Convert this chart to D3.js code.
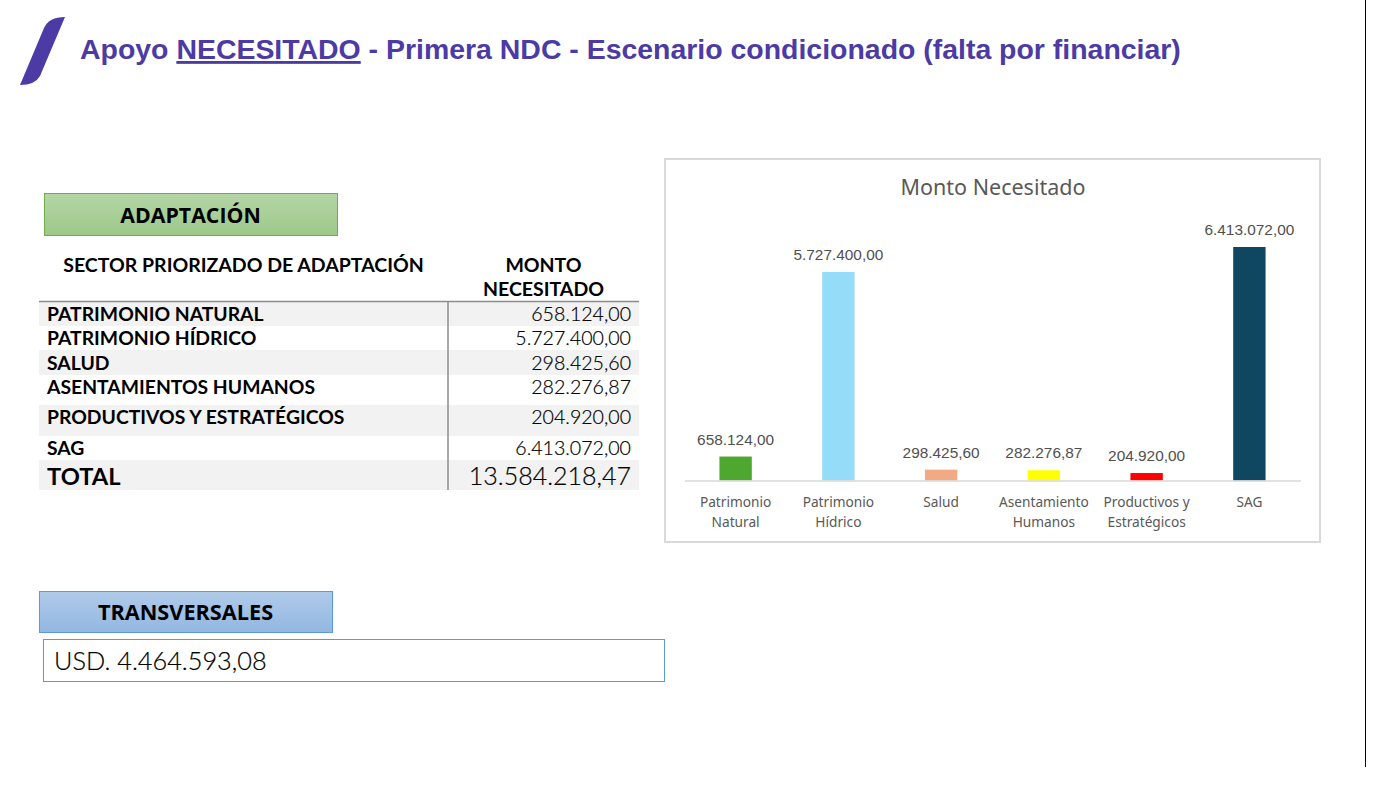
<!DOCTYPE html>
<html>
<head>
<meta charset="utf-8">
<script src="https://cdn.jsdelivr.net/npm/d3@7"></script>
<style>
  html, body { margin: 0; padding: 0; background: #fff; }
  svg { display: block; }
</style>
</head>
<body>
<svg id="slide"></svg>
<script>
// data
const tableSectors = ["PATRIMONIO NATURAL", "PATRIMONIO HÍDRICO", "SALUD", "ASENTAMIENTOS HUMANOS", "PRODUCTIVOS Y ESTRATÉGICOS", "SAG"];
const chartSectors = [["Patrimonio", "Natural"], ["Patrimonio", "Hídrico"], ["Salud"], ["Asentamiento", "Humanos"], ["Productivos y", "Estratégicos"], ["SAG"]];
const amounts = [658124.00, 5727400.00, 298425.60, 282276.87, 204920.00, 6413072.00];
const barColors = ["#4ea72e", "#95dcf9", "#f2aa84", "#ffff00", "#ff0000", "#0f4761"];
const totalLabel = "TOTAL";
const totalAmount = "13.584.218,47";
const transversalAmount = "USD. 4.464.593,08";

const purple = "#4c3aa5";
const tableFont = "Lato, 'Open Sans', sans-serif";
const chartFont = "'Noto Sans', Inter, sans-serif";

// 1.234.567,89 style numbers
const esLocale = d3.formatLocale({ decimal: ",", thousands: ".", grouping: [3], currency: ["", ""] });
const fmt = esLocale.format(",.2f");

const svg = d3.select("#slide").attr("width", 1390).attr("height", 786);

const defs = svg.append("defs");
function addGradient(id, top, bottom) {
  const g = defs.append("linearGradient").attr("id", id).attr("x1", 0).attr("y1", 0).attr("x2", 0).attr("y2", 1);
  g.append("stop").attr("offset", "0%").attr("stop-color", top);
  g.append("stop").attr("offset", "100%").attr("stop-color", bottom);
}
addGradient("greenFill", "#b5d6a6", "#9dc88a");
addGradient("blueFill", "#b0cbe9", "#92b7e2");

// slide edge on the right
svg.append("line")
  .attr("x1", 1365.5).attr("x2", 1365.5).attr("y1", 0).attr("y2", 767)
  .attr("stroke", "#000").attr("stroke-width", 1);

// logo slash
svg.append("path")
  .attr("d", "M65 17 L40 76 Q35 85 20 85 L44 28 Q49 17 65 17 Z")
  .attr("fill", purple);

// title
const title = svg.append("text")
  .attr("x", 80).attr("y", 59)
  .attr("font-family", "'Liberation Sans', Arial, sans-serif")
  .attr("font-size", 28.45).attr("font-weight", "bold")
  .attr("fill", purple);
title.append("tspan").text("Apoyo ");
title.append("tspan").attr("text-decoration", "underline").text("NECESITADO");
title.append("tspan").text(" - Primera NDC - Escenario condicionado (falta por financiar)");

// section badge, used twice
function badge(x, y, w, h, fill, stroke, label, size) {
  svg.append("rect")
    .attr("x", x + 0.5).attr("y", y + 0.5).attr("width", w).attr("height", h)
    .attr("fill", fill).attr("stroke", stroke);
  svg.append("text")
    .attr("x", x + w / 2).attr("y", y + h / 2 + 8.5)
    .attr("text-anchor", "middle")
    .attr("font-family", "'Open Sans', sans-serif")
    .attr("font-size", size).attr("font-weight", "bold")
    .attr("fill", "#000")
    .text(label);
}
badge(44, 193, 293, 42, "url(#greenFill)", "#70ad47", "ADAPTACIÓN", 21.3);
badge(39, 591, 293, 41, "url(#blueFill)", "#5b9bd5", "TRANSVERSALES", 21.7);

// table header
const headG = svg.append("g")
  .attr("font-family", tableFont)
  .attr("font-size", 19.5).attr("font-weight", "bold").attr("fill", "#000");
headG.append("text").attr("x", 243.5).attr("y", 272).attr("text-anchor", "middle")
  .text("SECTOR PRIORIZADO DE ADAPTACIÓN");
headG.append("text").attr("x", 543.5).attr("y", 272).attr("text-anchor", "middle").text("MONTO");
headG.append("text").attr("x", 543.5).attr("y", 296).attr("text-anchor", "middle").text("NECESITADO");

// table body
const tableRows = tableSectors.map((s, i) => ({ name: s, value: fmt(amounts[i]) }));
tableRows.push({ name: totalLabel, value: totalAmount, total: true });
const rowEdges = [302, 326, 350, 375, 405, 436, 460, 490];
// text is not centred in the taller rows
const rowMiddles = [314, 338, 363, 387, 417, 448, 476];

const rows = svg.append("g").selectAll("g").data(tableRows).enter().append("g");
rows.append("rect")
  .attr("x", 39).attr("width", 600)
  .attr("y", (d, i) => rowEdges[i])
  .attr("height", (d, i) => rowEdges[i + 1] - rowEdges[i])
  .attr("fill", (d, i) => i % 2 === 0 ? "#f2f2f2" : "#fff");
rows.append("text")
  .attr("x", 47)
  .attr("y", (d, i) => rowMiddles[i] + (d.total ? 9 : 6.5))
  .attr("font-family", tableFont)
  .attr("font-weight", "bold")
  .attr("font-size", d => d.total ? 23.7 : 19.35)
  .attr("fill", "#000")
  .text(d => d.name);
rows.append("text")
  .attr("x", 631)
  .attr("y", (d, i) => rowMiddles[i] + (d.total ? 9 : 6.5))
  .attr("text-anchor", "end")
  .attr("font-family", tableFont)
  .attr("font-weight", 300)
  .attr("font-size", d => d.total ? 25 : 19.6)
  .attr("fill", "#000")
  .attr("stroke", "#000")
  .attr("stroke-width", 0.2)
  .text(d => d.value);

svg.append("line").attr("x1", 39).attr("x2", 639).attr("y1", 301.5).attr("y2", 301.5)
  .attr("stroke", "#8c8c8c").attr("stroke-width", 1.5);
svg.append("line").attr("x1", 448).attr("x2", 448).attr("y1", 301).attr("y2", 490)
  .attr("stroke", "#8c8c8c").attr("stroke-width", 1.5);

// transversal amount
svg.append("rect")
  .attr("x", 43.5).attr("y", 639.5).attr("width", 621).attr("height", 42)
  .attr("fill", "#fff").attr("stroke", "#5b9bd5");
svg.append("text")
  .attr("x", 54).attr("y", 670)
  .attr("font-family", tableFont)
  .attr("font-weight", 300)
  .attr("font-size", 25.3).attr("fill", "#000")
  .attr("stroke", "#000")
  .attr("stroke-width", 0.2)
  .text(transversalAmount);

// chart frame
svg.append("rect")
  .attr("x", 665).attr("y", 159).attr("width", 655).attr("height", 383)
  .attr("fill", "#fff").attr("stroke", "#d9d9d9").attr("stroke-width", 2);
svg.append("text")
  .attr("x", 993).attr("y", 195).attr("text-anchor", "middle")
  .attr("font-family", chartFont)
  .attr("font-size", 21.5).attr("fill", "#595959")
  .text("Monto Necesitado");

// scales
const x = d3.scaleBand().domain(d3.range(amounts.length)).range([684.5, 1300.5]).paddingInner(0.685).paddingOuter(0.34);
const y = d3.scaleLinear().domain([0, 6413072]).range([480.5, 247]);

svg.append("g").selectAll("rect").data(amounts).enter().append("rect")
  .attr("x", (d, i) => x(i))
  .attr("y", d => y(d))
  .attr("width", x.bandwidth())
  .attr("height", d => y(0) - y(d))
  .attr("fill", (d, i) => barColors[i]);

svg.append("g").selectAll("text").data(amounts).enter().append("text")
  .attr("x", (d, i) => x(i) + x.bandwidth() / 2)
  .attr("y", d => y(d) - 12)
  .attr("text-anchor", "middle")
  .attr("font-family", "'Liberation Sans', Arial, sans-serif")
  .attr("font-size", 15.4).attr("fill", "#505050")
  .text(d => fmt(d));

// x axis, two-line labels
const xAxis = svg.append("g")
  .attr("transform", `translate(0,${y(0)})`)
  .call(d3.axisBottom(x).tickSize(0).tickFormat(""));
xAxis.select(".domain").attr("stroke", "#d9d9d9").attr("stroke-width", 1.5);

const ticks = svg.append("g").selectAll("text").data(chartSectors).enter().append("text")
  .attr("text-anchor", "middle")
  .attr("font-family", chartFont)
  .attr("font-size", 13.7).attr("fill", "#595959");
ticks.selectAll("tspan").data((d, i) => d.map(t => ({ t, i }))).enter().append("tspan")
  .attr("x", d => x(d.i) + x.bandwidth() / 2)
  .attr("y", (d, j) => 507 + j * 20)
  .text(d => d.t);
</script>
</body>
</html>
